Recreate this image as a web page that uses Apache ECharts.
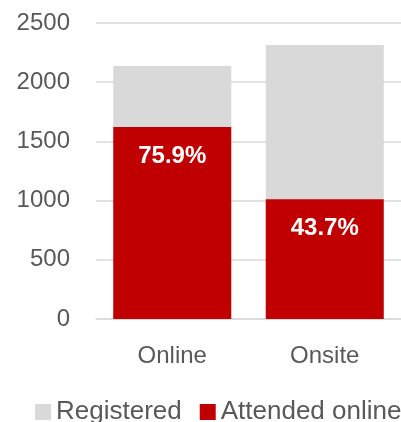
<!DOCTYPE html>
<html>
<head>
<meta charset="utf-8">
<script src="https://cdn.jsdelivr.net/npm/echarts@6/dist/echarts.min.js"></script>
<style>
  html, body { margin: 0; padding: 0; background: #fff; }
  #main { width: 401px; height: 422px; }
</style>
</head>
<body>
<div id="main"></div>
<script>
// chart data
var categories = ['Online', 'Onsite'];
var registered = [2136, 2314];
var attended = [1621, 1012];
var pctLabels = ['75.9%', '43.7%'];
var yTicks = { min: 0, max: 2500, step: 500 };

var font = '"Liberation Sans", Arial, sans-serif';
var myChart = echarts.init(document.getElementById('main'));

myChart.setOption({
  animation: false,
  textStyle: { fontFamily: font },
  legend: {
    left: 35,
    top: 399,
    width: 480,
    padding: 0,
    itemWidth: 16,
    itemHeight: 16,
    itemGap: 18,
    icon: 'rect',
    textStyle: { fontSize: 26, color: '#595959', fontFamily: font },
    data: ['Registered', 'Attended online']
  },
  grid: { left: 96, right: 0, top: 23, bottom: 103 },
  xAxis: {
    type: 'category',
    data: categories,
    axisLine: { lineStyle: { color: '#d9d9d9', width: 1.5 } },
    axisTick: { show: false },
    axisLabel: { fontSize: 24, color: '#595959', margin: 25, fontFamily: font }
  },
  yAxis: {
    type: 'value',
    min: yTicks.min,
    max: yTicks.max,
    interval: yTicks.step,
    axisLine: { show: false },
    axisTick: { show: false },
    axisLabel: {
      fontSize: 24, color: '#595959', margin: 26, fontFamily: font,
      formatter: function (v) { return String(v); }
    },
    splitLine: { lineStyle: { color: '#d9d9d9', width: 1.5 } }
  },
  series: [
    {
      name: 'Registered',
      type: 'bar',
      data: registered,
      barWidth: 118,
      barGap: '-100%',
      itemStyle: { color: '#d9d9d9' }
    },
    {
      name: 'Attended online',
      type: 'bar',
      data: attended,
      barWidth: 118,
      itemStyle: { color: '#c00000' },
      label: {
        show: true,
        position: 'insideTop',
        distance: 17,
        color: '#fff',
        fontSize: 24,
        fontWeight: 'bold',
        fontFamily: font,
        formatter: function (p) { return pctLabels[p.dataIndex]; }
      }
    }
  ]
});
</script>
</body>
</html>
